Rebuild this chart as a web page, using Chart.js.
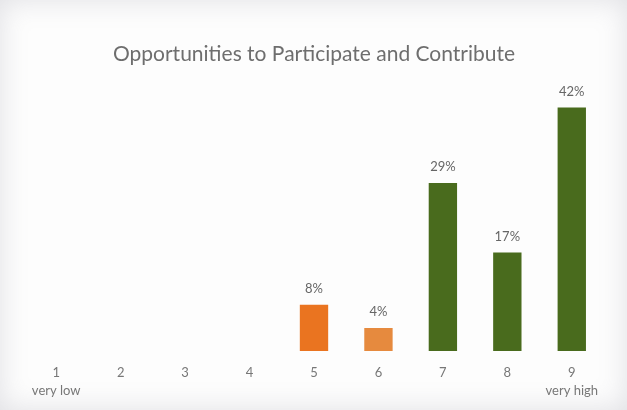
<!DOCTYPE html>
<html>
<head>
<meta charset="utf-8">
<script src="https://cdn.jsdelivr.net/npm/chart.js@4"></script>
<style>
  html, body { margin: 0; padding: 0; }
  body { width: 627px; height: 410px; background: #e9e9ec; }
  .panel {
    position: relative; width: 627px; height: 410px;
    background: #fdfdfd;
    box-shadow: inset 0 0 28px rgba(120,120,135,0.22);
  }
  canvas { position: absolute; left: 0; top: 0; }
</style>
</head>
<body>
<div class="panel">
  <canvas id="myChart" width="627" height="410"></canvas>
</div>
<script>
// rating scale 1..9, share of answers in %
const categories = ['1', '2', '3', '4', '5', '6', '7', '8', '9'];
const endNotes = { '1': 'very low', '9': 'very high' };
const shares = [0, 0, 0, 0, 8, 4, 29, 17, 42];
const barColors = ['#e8731f', '#e8731f', '#e8731f', '#e8731f', '#ea7420', '#e68a3e', '#496b1d', '#496b1d', '#496b1d'];

const labels = categories.map(c => endNotes[c] ? [c, endNotes[c]] : c);

// draws the "29%" labels above the bars
const valueLabels = {
  id: 'valueLabels',
  afterDatasetsDraw(chart) {
    const ctx = chart.ctx;
    const meta = chart.getDatasetMeta(0);
    ctx.save();
    ctx.font = '13px Lato, "Open Sans", sans-serif';
    ctx.fillStyle = '#666';
    ctx.textAlign = 'center';
    ctx.textBaseline = 'middle';
    meta.data.forEach((bar, i) => {
      if (!shares[i]) return;
      ctx.fillText(shares[i] + '%', bar.x, bar.y - 16);
    });
    ctx.restore();
  }
};

const ctx = document.getElementById('myChart');

new Chart(ctx, {
  type: 'bar',
  data: {
    labels: labels,
    datasets: [{
      label: 'Opportunities to Participate and Contribute',
      data: shares,
      backgroundColor: barColors,
      barPercentage: 0.44,
      categoryPercentage: 1
    }]
  },
  options: {
    responsive: false,
    animation: false,
    layout: { padding: { left: 24, right: 23, top: 42, bottom: -3 } },
    plugins: {
      legend: { display: false },
      tooltip: { enabled: false },
      title: {
        display: true,
        text: 'Opportunities to Participate and Contribute',
        color: '#6e6e6e',
        font: { family: 'Lato, "Open Sans", sans-serif', size: 21, weight: 'normal', lineHeight: 1.2 },
        padding: { top: 0, bottom: 23 }
      }
    },
    scales: {
      x: {
        grid: { display: false, drawTicks: false },
        border: { display: false },
        ticks: {
          color: '#777',
          padding: 13,
          maxRotation: 0,
          autoSkip: false,
          font: { family: 'Lato, "Open Sans", sans-serif', size: 13, lineHeight: 1.38 }
        }
      },
      y: {
        display: false,
        min: 0,
        max: 45
      }
    }
  },
  plugins: [valueLabels]
});
</script>
</body>
</html>
